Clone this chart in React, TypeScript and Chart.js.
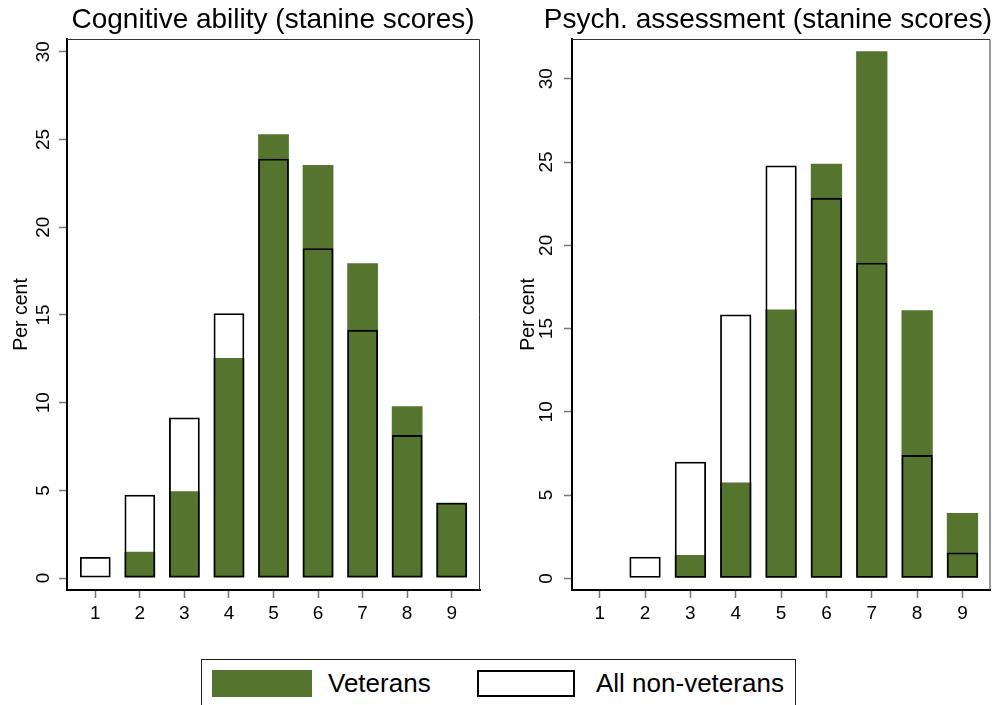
import React, { useEffect, useRef } from 'react';
import { Chart, registerables } from 'chart.js';

Chart.register(...registerables);

// ---- data ----
const categories = [1, 2, 3, 4, 5, 6, 7, 8, 9];
const cognitiveVeterans = [0, 1.5, 4.95, 12.55, 25.3, 23.55, 17.95, 9.8, 4.3];
const cognitiveNonVeterans = [1.2, 4.75, 9.15, 15.1, 23.9, 18.8, 14.15, 8.15, 4.3];
const psychVeterans = [0, 0, 1.4, 5.75, 16.15, 24.9, 31.65, 16.1, 3.92];
const psychNonVeterans = [0, 1.3, 7.0, 15.85, 24.8, 22.85, 18.95, 7.4, 1.55];
const yTicks = [0, 5, 10, 15, 20, 25, 30];
const panelTitles = ['Cognitive ability (stanine scores)', 'Psych. assessment (stanine scores)'];
const yAxisTitle = 'Per cent';
const seriesLabels = ['Veterans', 'All non-veterans'];

const GREEN = '#55752F';
const FONT = '"Liberation Sans", Arial, Helvetica, sans-serif';

const framePlugin = {
  id: 'frameTopRight',
  afterDraw(chart: any) {
    const { ctx, chartArea } = chart;
    ctx.save();
    ctx.strokeStyle = '#333';
    ctx.lineWidth = 1;
    ctx.beginPath();
    ctx.moveTo(chartArea.left, chartArea.top + 0.5);
    ctx.lineTo(chartArea.right - 0.5, chartArea.top + 0.5);
    ctx.lineTo(chartArea.right - 0.5, chartArea.bottom);
    ctx.stroke();
    ctx.restore();
  },
};

interface PanelProps {
  title: string;
  titleAlign: 'center' | 'end';
  veterans: number[];
  nonVeterans: number[];
  yMin: number;
  yMax: number;
  xMin: number;
  xMax: number;
  yAxisWidth: number;
  rightPad: number;
  tickPad: number;
  titlePad: number;
  width: number;
  height: number;
}

function Panel(p: PanelProps) {
  const ref = useRef<HTMLCanvasElement | null>(null);
  useEffect(() => {
    if (!ref.current) return;
    const tickGrid = {
      display: true,
      drawOnChartArea: false,
      drawTicks: true,
      offset: false,
      tickLength: 8,
      tickColor: '#777',
      tickWidth: 1.5,
    };
    const border = { display: true, color: '#000', width: 2 };
    const chart = new Chart(ref.current, {
      type: 'bar',
      data: {
        datasets: [
          {
            label: seriesLabels[1],
            data: categories.map((c, i) => ({ x: c, y: p.nonVeterans[i] })),
            backgroundColor: 'rgba(0,0,0,0)',
            borderColor: '#000',
            borderWidth: 1.8,
            borderSkipped: false,
            order: 1,
            grouped: false,
            barPercentage: 0.69,
            categoryPercentage: 1,
            xAxisID: 'x',
            yAxisID: 'y',
          } as any,
          {
            label: seriesLabels[0],
            data: categories.map((c, i) => ({ x: c, y: p.veterans[i] })),
            backgroundColor: GREEN,
            borderWidth: 0,
            order: 2,
            grouped: false,
            barPercentage: 0.69,
            categoryPercentage: 1,
            xAxisID: 'x',
            yAxisID: 'y',
          } as any,
        ],
      },
      options: {
        animation: false,
        responsive: false,
        devicePixelRatio: 1,
        layout: { padding: 0 },
        plugins: {
          legend: { display: false },
          tooltip: { enabled: false },
          title: {
            display: true,
            text: p.title,
            align: p.titleAlign,
            color: '#000',
            font: { size: 28, family: FONT, weight: 'normal' },
            padding: { top: 3, bottom: 2.4 },
          },
        },
        scales: {
          x: {
            type: 'linear',
            position: 'bottom',
            offset: false,
            min: p.xMin,
            max: p.xMax,
            afterBuildTicks: (s: any) => {
              s.ticks = categories.map((v) => ({ value: v }));
            },
            grid: tickGrid,
            border,
            ticks: {
              color: '#000',
              font: { size: 19, family: FONT },
              padding: 4,
              autoSkip: false,
              minRotation: 0,
              maxRotation: 0,
              callback: (v: any) => String(v),
            },
            afterFit: (s: any) => {
              s.height = 50;
            },
          },
          y: {
            type: 'linear',
            position: 'left',
            min: p.yMin,
            max: p.yMax,
            afterBuildTicks: (s: any) => {
              s.ticks = yTicks.map((v) => ({ value: v }));
            },
            grid: tickGrid,
            border,
            ticks: {
              color: '#000',
              font: { size: 19, family: FONT },
              padding: p.tickPad,
              minRotation: 90,
              maxRotation: 90,
              crossAlign: 'center',
              callback: (v: any) => String(v),
            },
            title: {
              display: true,
              text: yAxisTitle,
              color: '#000',
              font: { size: 19.5, family: FONT },
              padding: { top: p.titlePad, bottom: 0 },
            },
            afterFit: (s: any) => {
              s.width = p.yAxisWidth;
            },
          },
          pad: {
            type: 'linear',
            position: 'right',
            display: true,
            grid: { display: false },
            ticks: { display: false },
            border: { display: false },
            afterFit: (s: any) => {
              s.width = p.rightPad;
            },
          },
        } as any,
      },
      plugins: [framePlugin],
    });
    return () => chart.destroy();
  }, []);
  return (
    <canvas
      ref={ref}
      width={p.width}
      height={p.height}
      style={{ width: p.width, height: p.height, display: 'block' }}
    />
  );
}

export default function App() {
  return (
    <div
      style={{
        position: 'absolute',
        left: 0,
        top: 0,
        width: 996,
        height: 705,
        overflow: 'hidden',
        background: '#fff',
        fontFamily: FONT,
      }}
    >
      <div style={{ position: 'absolute', left: 0, top: 0 }}>
        <Panel
          title={panelTitles[0]}
          titleAlign="center"
          veterans={cognitiveVeterans}
          nonVeterans={cognitiveNonVeterans}
          yMin={-0.68}
          yMax={30.73}
          xMin={0.365}
          xMax={9.635}
          yAxisWidth={67}
          rightPad={66}
          tickPad={4.5}
          titlePad={10}
          width={546}
          height={640}
        />
      </div>
      <div style={{ position: 'absolute', left: 506, top: 0 }}>
        <Panel
          title={panelTitles[1]}
          titleAlign="end"
          veterans={psychVeterans}
          nonVeterans={psychNonVeterans}
          yMin={-0.7}
          yMax={32.39}
          xMin={0.389}
          xMax={9.618}
          yAxisWidth={66}
          rightPad={1.5}
          tickPad={6.3}
          titlePad={11}
          width={486}
          height={640}
        />
      </div>
      <div
        style={{
          position: 'absolute',
          left: 201,
          top: 659,
          width: 595,
          height: 70,
          border: '1px solid #222',
          boxSizing: 'border-box',
          fontSize: 26,
          color: '#000',
        }}
      >
        <div
          style={{ position: 'absolute', left: 10, top: 10, width: 100, height: 27, background: GREEN }}
        />
        <div style={{ position: 'absolute', left: 126, top: 10, height: 27, lineHeight: '27px', whiteSpace: 'nowrap' }}>
          {seriesLabels[0]}
        </div>
        <div
          style={{
            position: 'absolute',
            left: 275,
            top: 10,
            width: 98,
            height: 27,
            border: '2px solid #000',
            boxSizing: 'border-box',
          }}
        />
        <div style={{ position: 'absolute', left: 394, top: 10, height: 27, lineHeight: '27px', whiteSpace: 'nowrap' }}>
          {seriesLabels[1]}
        </div>
      </div>
    </div>
  );
}
